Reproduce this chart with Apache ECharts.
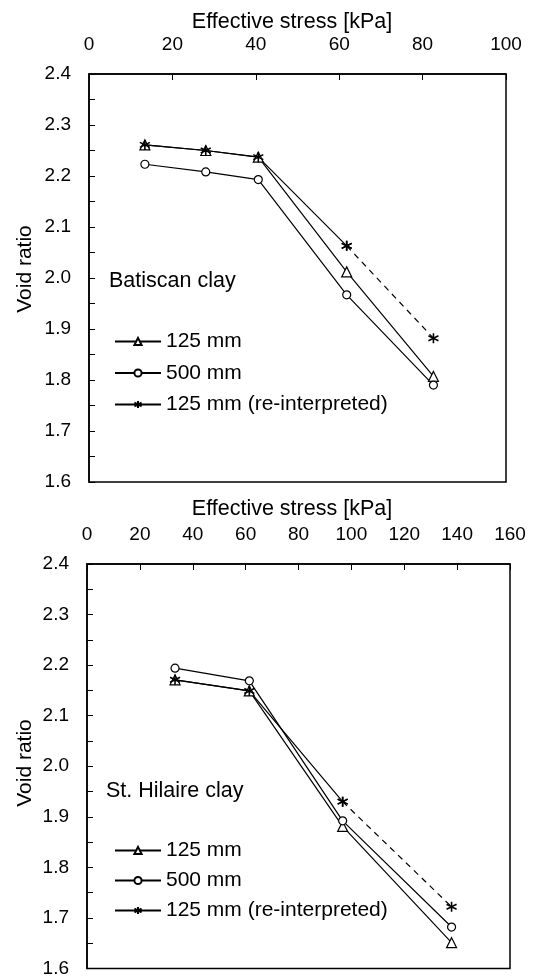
<!DOCTYPE html>
<html>
<head>
<meta charset="utf-8">
<script src="https://cdn.jsdelivr.net/npm/echarts@6/dist/echarts.min.js"></script>
<style>
html,body{margin:0;padding:0;background:#fff;}
#chart{width:536px;height:978px;}
</style>
</head>
<body>
<div id="chart"></div>
<script>
// ---- Data ----
const topStress = [13.4, 28.0, 40.6, 61.8, 82.6];
const top125 = [2.261, 2.250, 2.237, 2.012, 1.807];
const top500 = [2.223, 2.208, 2.193, 1.967, 1.790];
const top125re = [2.261, 2.250, 2.237, 2.063, 1.882];

const botStress = [33.3, 61.4, 96.7, 137.9];
const bot125 = [2.171, 2.149, 1.881, 1.651];
const bot500 = [2.194, 2.169, 1.892, 1.682];
const bot125re = [2.171, 2.149, 1.930, 1.722];

const seriesNames = ['125 mm', '500 mm', '125 mm (re-interpreted)'];
const panelLabels = ['Batiscan clay', 'St. Hilaire clay'];
const xTitle = 'Effective stress [kPa]';
const yTitle = 'Void ratio';

// ---- Styling ----
const FONT = 'Liberation Sans, Arial, Helvetica, sans-serif';
const STAR = 'path://M5,0 L5,10 M0.67,2.5 L9.33,7.5 M0.67,7.5 L9.33,2.5';

function pairs(xs, ys) { return xs.map((x, i) => [x, ys[i]]); }

function xAx(grid, max) {
  return {
    gridIndex: grid, type: 'value', position: 'top', min: 0, max: max, interval: 20,
    axisLine: { show: true, lineStyle: { color: '#000', width: 1.5 } },
    axisTick: { show: true, inside: true, length: 6, lineStyle: { color: '#000', width: 1 } },
    axisLabel: { margin: 20, fontSize: 19, color: '#000', fontFamily: FONT },
    splitLine: { show: false }
  };
}
function yAx(grid) {
  return {
    gridIndex: grid, type: 'value', min: 1.6, max: 2.4, interval: 0.1,
    axisLine: { show: true, lineStyle: { color: '#000', width: 1.5 } },
    axisTick: { show: true, inside: true, length: 6, lineStyle: { color: '#000', width: 1 } },
    minorTick: { show: true, splitNumber: 2, length: 6, lineStyle: { color: '#000', width: 1 } },
    axisLabel: { margin: 18, fontSize: 19, color: '#000', fontFamily: FONT,
      formatter: v => v.toFixed(1) },
    splitLine: { show: false }
  };
}
function lineSeries(name, data, grid, symbol, size, dashed) {
  return {
    name: name, type: 'line', xAxisIndex: grid, yAxisIndex: grid, data: data,
    symbol: symbol, symbolSize: size, showAllSymbol: true,
    lineStyle: { color: '#000', width: 1.2, type: dashed ? [6, 5] : 'solid' },
    itemStyle: symbol === STAR
      ? { color: '#000', borderColor: '#000', borderWidth: 1.6 }
      : { color: '#fff', borderColor: '#000', borderWidth: 1.2 },
    emphasis: { disabled: true },
    silent: true, animation: false
  };
}
function panelSeries(grid, xs, a, b, c) {
  const n = xs.length;
  const re = pairs(xs, c);
  return [
    lineSeries(seriesNames[0], pairs(xs, a), grid, 'triangle', 10, false),
    lineSeries(seriesNames[1], pairs(xs, b), grid, 'circle', 8, false),
    lineSeries(seriesNames[2], re.slice(0, n - 1), grid, STAR, 10, false),
    lineSeries(seriesNames[2] + ' (dashed)', re.slice(n - 2), grid, STAR, 10, true)
  ];
}
function legend(top, gap) {
  return {
    orient: 'vertical', left: 114, top: top, padding: 0,
    itemWidth: 46, itemHeight: 9, itemGap: gap,
    selectedMode: false, data: seriesNames,
    textStyle: { fontSize: 21, color: '#000', fontFamily: FONT }
  };
}
function txt(s, x, y, size, opts) {
  return {
    type: 'text', x: x, y: y, silent: true,
    style: Object.assign({ text: s, fill: '#000', font: size + 'px ' + FONT,
      textAlign: 'center', textVerticalAlign: 'middle' }, opts || {})
  };
}

const chart = echarts.init(document.getElementById('chart'), null, { renderer: 'canvas' });
chart.setOption({
  animation: false,
  backgroundColor: '#fff',
  grid: [
    { left: 89, top: 74, width: 417, height: 408, show: true, borderColor: '#000', borderWidth: 1.5, backgroundColor: 'transparent' },
    { left: 87, top: 564, width: 423, height: 407, show: true, borderColor: '#000', borderWidth: 1.5, backgroundColor: 'transparent' }
  ],
  xAxis: [xAx(0, 100), xAx(1, 160)],
  yAxis: [yAx(0), yAx(1)],
  legend: [legend(331, 10.5), legend(840, 9)],
  series: panelSeries(0, topStress, top125, top500, top125re)
    .concat(panelSeries(1, botStress, bot125, bot500, bot125re)),
  graphic: [
    txt(xTitle, 292, 22, 21.5),
    txt(xTitle, 292, 509, 21.5),
    Object.assign(txt(yTitle, 25, 269, 21), { rotation: Math.PI / 2 }),
    Object.assign(txt(yTitle, 25, 763, 21), { rotation: Math.PI / 2 }),
    txt(panelLabels[0], 109, 281, 21.5, { textAlign: 'left' }),
    txt(panelLabels[1], 106, 791, 21.5, { textAlign: 'left' })
  ]
});
</script>
</body>
</html>
